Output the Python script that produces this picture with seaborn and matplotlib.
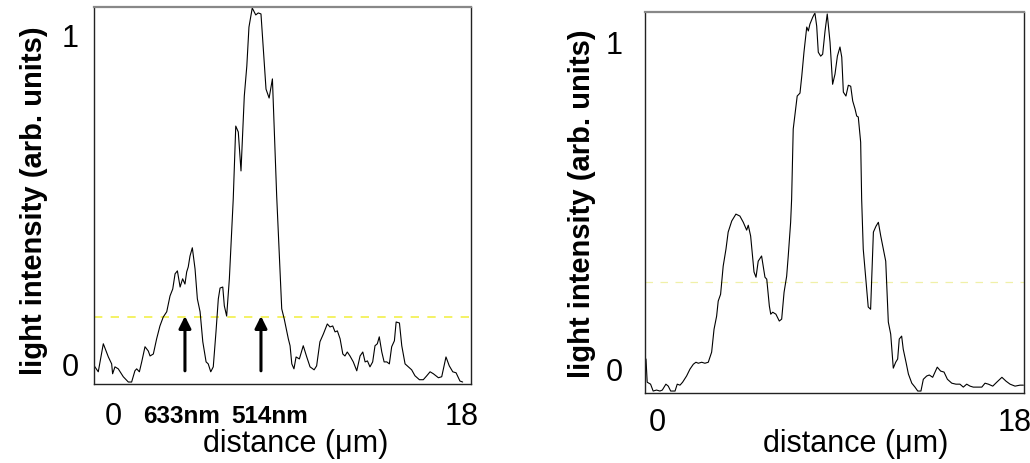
import numpy as np
import pandas as pd
import matplotlib
matplotlib.use("Agg")
import matplotlib.pyplot as plt
import seaborn as sns

# ---------------- data ----------------
left_x = [-0.98, -0.76, -0.50, -0.24, -0.07, -0.02, 0.10, 0.27, 0.53, 0.79, 0.96, 1.13, 1.22, 1.36,
          1.48, 1.65, 1.82, 1.91, 2.08, 2.25, 2.42, 2.59, 2.77, 2.94, 3.08, 3.20, 3.32, 3.46, 3.59,
          3.71, 3.80, 3.88, 3.97, 4.09, 4.23, 4.35, 4.49, 4.63, 4.80, 4.91, 5.04, 5.17, 5.31, 5.43,
          5.52, 5.66, 5.74, 5.86, 6.00, 6.12, 6.20, 6.33, 6.46, 6.60, 6.77, 6.90, 7.01, 7.18, 7.36,
          7.49, 7.63, 7.75, 7.89, 8.05, 8.22, 8.30, 8.44, 8.58, 8.70, 8.83, 9.04, 9.13, 9.22, 9.33,
          9.44, 9.61, 9.81, 9.99, 10.16, 10.37, 10.50, 10.67, 10.85, 11.05, 11.19, 11.33, 11.45,
          11.57, 11.71, 11.85, 11.96, 12.08, 12.22, 12.39, 12.57, 12.74, 12.88, 13.00, 13.12, 13.25,
          13.39, 13.51, 13.63, 13.73, 13.86, 13.98, 14.12, 14.25, 14.37, 14.51, 14.60, 14.77, 14.89,
          15.06, 15.23, 15.40, 15.57, 15.80, 16.00, 16.18, 16.35, 16.52, 16.78, 16.95, 17.07, 17.17,
          17.34, 17.52, 17.69, 17.89, 18.03]
left_y = [-0.005, -0.024, 0.061, 0.021, 0.000, -0.030, -0.009, -0.015, -0.039, -0.055, -0.055,
          -0.021, -0.015, -0.024, 0.006, 0.052, 0.039, 0.024, 0.030, 0.076, 0.115, 0.142, 0.158,
          0.206, 0.227, 0.273, 0.282, 0.233, 0.258, 0.242, 0.279, 0.294, 0.327, 0.352, 0.288, 0.197,
          0.158, 0.067, 0.006, 0.000, -0.024, -0.009, 0.097, 0.197, 0.230, 0.233, 0.176, 0.145,
          0.258, 0.400, 0.500, 0.721, 0.703, 0.585, 0.812, 0.903, 1.021, 1.079, 1.058, 1.064, 1.061,
          0.955, 0.833, 0.806, 0.864, 0.733, 0.509, 0.327, 0.167, 0.136, 0.076, 0.055, 0.000, -0.015,
          0.021, 0.015, 0.055, 0.021, -0.009, -0.018, -0.006, 0.067, 0.091, 0.121, 0.112, 0.115,
          0.097, 0.100, 0.076, 0.030, 0.024, 0.036, 0.024, 0.006, -0.021, 0.024, 0.036, 0.006, 0.009,
          -0.009, 0.006, 0.055, 0.061, 0.082, 0.036, 0.006, 0.006, 0.000, 0.052, 0.070, 0.127, 0.124,
          0.055, 0.000, -0.009, -0.018, -0.036, -0.048, -0.048, -0.036, -0.024, -0.030, -0.042,
          -0.039, -0.006, 0.021, -0.006, -0.024, -0.027, -0.052, -0.055]

right_x = [-0.55, -0.49, -0.32, -0.19, -0.02, 0.15, 0.27, 0.45, 0.57, 0.69, 0.91, 1.02, 1.16, 1.29,
           1.49, 1.66, 1.83, 1.96, 2.08, 2.25, 2.41, 2.58, 2.75, 2.87, 3.00, 3.08, 3.20, 3.33, 3.47,
           3.58, 3.76, 3.97, 4.17, 4.34, 4.51, 4.59, 4.71, 4.88, 4.98, 5.09, 5.26, 5.43, 5.52, 5.65,
           5.72, 5.82, 5.98, 6.15, 6.27, 6.39, 6.52, 6.60, 6.72, 6.77, 6.85, 6.97, 7.05, 7.19, 7.28,
           7.39, 7.53, 7.61, 7.69, 7.83, 7.94, 8.03, 8.11, 8.23, 8.33, 8.45, 8.56, 8.70, 8.83, 8.95,
           9.07, 9.20, 9.29, 9.37, 9.50, 9.62, 9.74, 9.84, 9.96, 10.04, 10.12, 10.24, 10.29, 10.37,
           10.51, 10.62, 10.74, 10.79, 10.88, 11.01, 11.13, 11.25, 11.38, 11.50, 11.63, 11.75, 11.88,
           12.00, 12.10, 12.18, 12.30, 12.38, 12.52, 12.64, 12.81, 12.97, 13.11, 13.27, 13.39, 13.56,
           13.69, 13.86, 13.98, 14.09, 14.26, 14.43, 14.60, 14.82, 15.03, 15.23, 15.40, 15.57, 15.74,
           15.90, 16.15, 16.33, 16.49, 16.66, 16.88, 17.08, 17.34, 17.55, 17.75, 18.00, 18.25, 18.42]
right_y = [0.028, -0.043, -0.049, -0.070, -0.067, -0.070, -0.067, -0.049, -0.055, -0.070, -0.070,
           -0.049, -0.052, -0.043, -0.024, -0.003, 0.012, 0.018, 0.015, 0.018, 0.015, 0.018, 0.049,
           0.119, 0.159, 0.205, 0.226, 0.312, 0.364, 0.416, 0.450, 0.471, 0.465, 0.446, 0.422, 0.437,
           0.404, 0.294, 0.278, 0.327, 0.343, 0.278, 0.272, 0.190, 0.165, 0.171, 0.165, 0.144, 0.150,
           0.232, 0.281, 0.343, 0.446, 0.517, 0.731, 0.792, 0.832, 0.841, 0.893, 0.966, 1.043, 1.031,
           1.052, 1.073, 1.086, 1.046, 0.966, 0.954, 0.960, 1.031, 1.083, 0.997, 0.868, 0.899, 0.954,
           0.982, 0.951, 0.844, 0.832, 0.865, 0.862, 0.817, 0.792, 0.771, 0.768, 0.691, 0.517, 0.364,
           0.263, 0.187, 0.180, 0.263, 0.416, 0.434, 0.446, 0.404, 0.364, 0.327, 0.141, 0.104, 0.000,
           0.018, 0.028, 0.089, 0.098, 0.058, 0.018, -0.018, -0.046, -0.058, -0.070, -0.070, -0.034,
           -0.024, -0.021, -0.028, -0.012, 0.003, -0.009, -0.012, -0.034, -0.046, -0.049, -0.049,
           -0.058, -0.049, -0.055, -0.058, -0.058, -0.058, -0.046, -0.049, -0.055, -0.043, -0.028,
           -0.040, -0.049, -0.055, -0.052, -0.052]

threshold_left = 0.142
threshold_right = 0.263
x_ticks = [0, 18]
x_tick_labels = ["0", "18"]
y_ticks = [0, 1]
y_tick_labels = ["0", "1"]
arrow_x = [3.71, 7.63]
wavelength_labels = ["633nm", "514nm"]
wavelength_label_x = [3.56, 8.10]

# ---------------- styling ----------------
sns.set_style("white")
plt.rcParams["font.family"] = ["Liberation Sans", "DejaVu Sans"]
plt.rcParams["text.color"] = "black"
plt.rcParams["axes.labelcolor"] = "black"

fig = plt.figure(figsize=(10.30, 4.64), dpi=100)
axL = fig.add_axes([94 / 1030, 1 - 385 / 464, 377 / 1030, 377 / 464])
axR = fig.add_axes([645 / 1030, 1 - 394 / 464, 379 / 1030, 381 / 464])

dfL = pd.DataFrame({"distance": left_x, "intensity": left_y})
dfR = pd.DataFrame({"distance": right_x, "intensity": right_y})

sns.lineplot(data=dfL, x="distance", y="intensity", ax=axL, color="black", lw=0.8,
             sort=False, estimator=None)
sns.lineplot(data=dfR, x="distance", y="intensity", ax=axR, color="black", lw=0.8,
             sort=False, estimator=None)

axL.axhline(threshold_left, color="#f2f04a", lw=1.2, dashes=(5, 5), zorder=0)
axR.axhline(threshold_right, color="#f0f0a8", lw=0.9, dashes=(6, 6), zorder=0)

axL.set_xlim(-0.98, 18.46)
axL.set_ylim(-0.061, 1.082)
axR.set_xlim(-0.60, 18.45)
axR.set_ylim(-0.076, 1.089)

for ax in (axL, axR):
    ax.set_xticks(x_ticks)
    ax.set_xticklabels(x_tick_labels)
    ax.set_yticks(y_ticks)
    ax.set_yticklabels(y_tick_labels)
    ax.tick_params(axis="both", length=0, labelsize=22, labelcolor="black")
    for side in ("left", "right", "bottom"):
        ax.spines[side].set_color("#222222")
        ax.spines[side].set_linewidth(1.0)
    ax.spines["top"].set_color("#888888")
    ax.spines["top"].set_linewidth(1.6)
    ax.set_xlabel("distance (\u03bcm)", fontsize=22)
    ax.set_ylabel("light intensity (arb. units)", fontsize=21, fontweight="bold")

axL.tick_params(axis="y", pad=11)
axL.tick_params(axis="x", pad=12)
axR.tick_params(axis="y", pad=16)
axR.tick_params(axis="x", pad=10)

axL.xaxis.set_label_coords(0.536, -0.117)
axR.xaxis.set_label_coords(0.557, -0.093)
axL.yaxis.set_label_coords(-0.121, 0.49)
axR.yaxis.set_label_coords(-0.130, 0.5)

for xa in arrow_x:
    axL.annotate("", xy=(xa, threshold_left + 0.003), xytext=(xa, -0.021),
                 arrowprops=dict(arrowstyle="-|>", color="black", lw=2.2, mutation_scale=18,
                                 shrinkA=0, shrinkB=0))

for xt, lab in zip(wavelength_label_x, wavelength_labels):
    axL.text(xt, -0.158, lab, ha="center", va="center", fontsize=17.5, fontweight="bold",
             clip_on=False)

fig.savefig("out.png", dpi=100)
